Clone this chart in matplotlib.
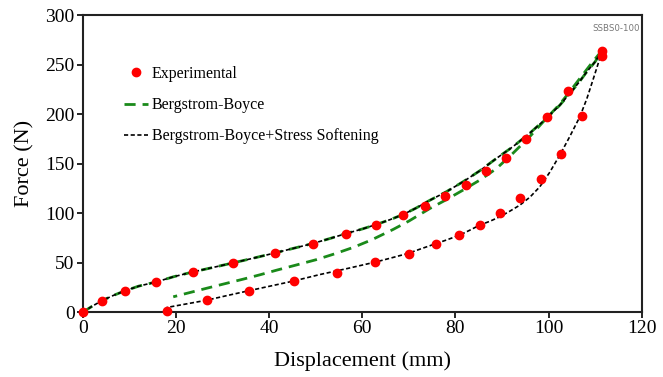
import matplotlib.pyplot as plt

plt.rcParams['font.family'] = ['Liberation Serif', 'DejaVu Serif']

# experimental points (loading then unloading)
exp_x = [0, 4.1, 9.1, 15.7, 23.7, 32.3, 41.3, 49.5, 56.6, 62.9, 68.7, 73.5, 77.8,
         82.3, 86.6, 90.9, 95.2, 99.6, 104.1, 111.4,
         111.4, 107.1, 102.7, 98.3, 93.8, 89.5, 85.2, 80.8, 75.8, 70.0, 62.7,
         54.5, 45.3, 35.6, 26.6, 18.0]
exp_y = [0, 11.4, 21.5, 30.6, 40.7, 49.8, 60.0, 69.0, 78.8, 88.2, 98.0, 107.4, 117.5,
         128.8, 142.2, 155.9, 174.4, 197.2, 223.5, 263.5,
         259.0, 198.0, 160.0, 134.0, 115.5, 99.7, 88.2, 77.8, 68.4, 58.9, 50.2,
         40.0, 31.0, 20.9, 11.8, 1.0]

# model loading branch (shared by both models)
load_x = [0, 2.0, 4.0, 6.5, 9.0, 12.0, 15.8, 19.5, 23.7, 28.0, 32.3, 36.5, 40.8,
          45.0, 49.4, 53.0, 56.6, 60.0, 63.0, 66.0, 68.7, 71.5, 74.5, 78.0,
          81.6, 85.2, 88.8, 92.3, 95.9, 99.5, 102.4, 104.5, 106.5, 108.0, 110.0,
          111.5]
load_y = [0, 6.0, 11.4, 16.8, 21.5, 26.3, 30.6, 35.8, 40.7, 45.2, 49.8, 54.4, 59.3,
          64.2, 69.4, 74.3, 79.5, 84.0, 88.5, 93.5, 98.5, 105.0, 113.0, 121.5,
          131.6, 142.7, 155.3, 167.0, 180.5, 195.7, 209.0, 220.5, 232.0, 241.5,
          253.0, 264.6]

# Bergstrom-Boyce unloading
bb_un_x = [111.5, 109.0, 106.7, 104.5, 102.4, 99.5, 95.9, 92.3, 88.8, 85.2,
           81.6, 78.0, 74.5, 70.0, 66.6, 62.0, 58.0, 54.0, 50.1, 45.8, 41.6,
           38.0, 34.4, 30.8, 27.3, 23.3, 19.4]
bb_un_y = [264.6, 250.0, 236.0, 222.5, 210.0, 195.7, 177.0, 160.3, 145.0, 133.3,
           123.2, 113.5, 104.7, 92.0, 83.5, 73.0, 65.3, 58.8, 53.0, 47.6, 42.4,
           37.7, 33.3, 29.1, 25.0, 20.2, 15.5]

# Bergstrom-Boyce + stress softening unloading
ss_un_x = [111.5, 110.5, 109.5, 108.2, 106.7, 104.5, 102.4, 100.2, 98.1, 96.0,
           93.8, 91.6, 89.5, 87.4, 85.2, 83.0, 80.9, 78.2, 75.5, 72.6, 69.8, 66.4,
           63.0, 57.0, 50.9, 45.1, 40.3, 35.5, 31.0, 26.5, 22.2, 18.0]
ss_un_y = [264.6, 249.0, 234.3, 215.5, 197.3, 177.0, 158.6, 141.0, 126.6, 116.2,
           108.0, 101.8, 96.3, 91.8, 87.9, 82.6, 77.8, 73.1, 68.7, 64.0, 59.3, 55.0,
           50.8, 44.3, 38.0, 31.3, 26.4, 21.5, 16.8, 12.0, 8.3, 4.7]

fig = plt.figure(figsize=(6.63, 3.77), dpi=100)
ax = fig.add_axes([0.125, 0.172, 0.843, 0.788])

green = '#1a8a1a'
ax.plot(load_x, load_y, color=green, ls=(0, (4, 2.5)), lw=2.0, zorder=2)
ax.plot(bb_un_x, bb_un_y, color=green, ls=(0, (4, 2.5)), lw=2.0, zorder=2,
        label='Bergstrom-Boyce')
ax.plot(load_x, load_y, color='black', ls=(0, (2.5, 1.5)), lw=1.2, zorder=3)
ax.plot(ss_un_x, ss_un_y, color='black', ls=(0, (2.5, 1.5)), lw=1.2, zorder=3,
        label='Bergstrom-Boyce+Stress Softening')
ax.plot(exp_x, exp_y, 'o', color='#ff0000', ms=6, zorder=4, label='Experimental',
        clip_on=False)

h, l = ax.get_legend_handles_labels()
order = [2, 0, 1]
ax.legend([h[i] for i in order], [l[i] for i in order], loc='upper left',
          bbox_to_anchor=(0.062, 0.85), frameon=False, fontsize=11.5,
          handlelength=1.5, handletextpad=0.25, labelspacing=0.95, borderaxespad=0)

ax.text(0.997, 0.955, 'SSBS0-100', transform=ax.transAxes, ha='right', va='center',
        fontsize=6.2, color='#777777', family='DejaVu Sans')

ax.set_xlim(0, 120)
ax.set_ylim(0, 300)
ax.set_xticks([0, 20, 40, 60, 80, 100, 120])
ax.set_yticks([0, 50, 100, 150, 200, 250, 300])
ax.tick_params(labelsize=14, direction='out', length=4, width=1.2, pad=2)
for s in ax.spines.values():
    s.set_linewidth(1.5)
    s.set_color('#222222')
ax.set_xlabel('Displacement (mm)', fontsize=16, labelpad=10)
ax.set_ylabel('Force (N)', fontsize=16, labelpad=8)

fig.savefig('out.png', dpi=100)
